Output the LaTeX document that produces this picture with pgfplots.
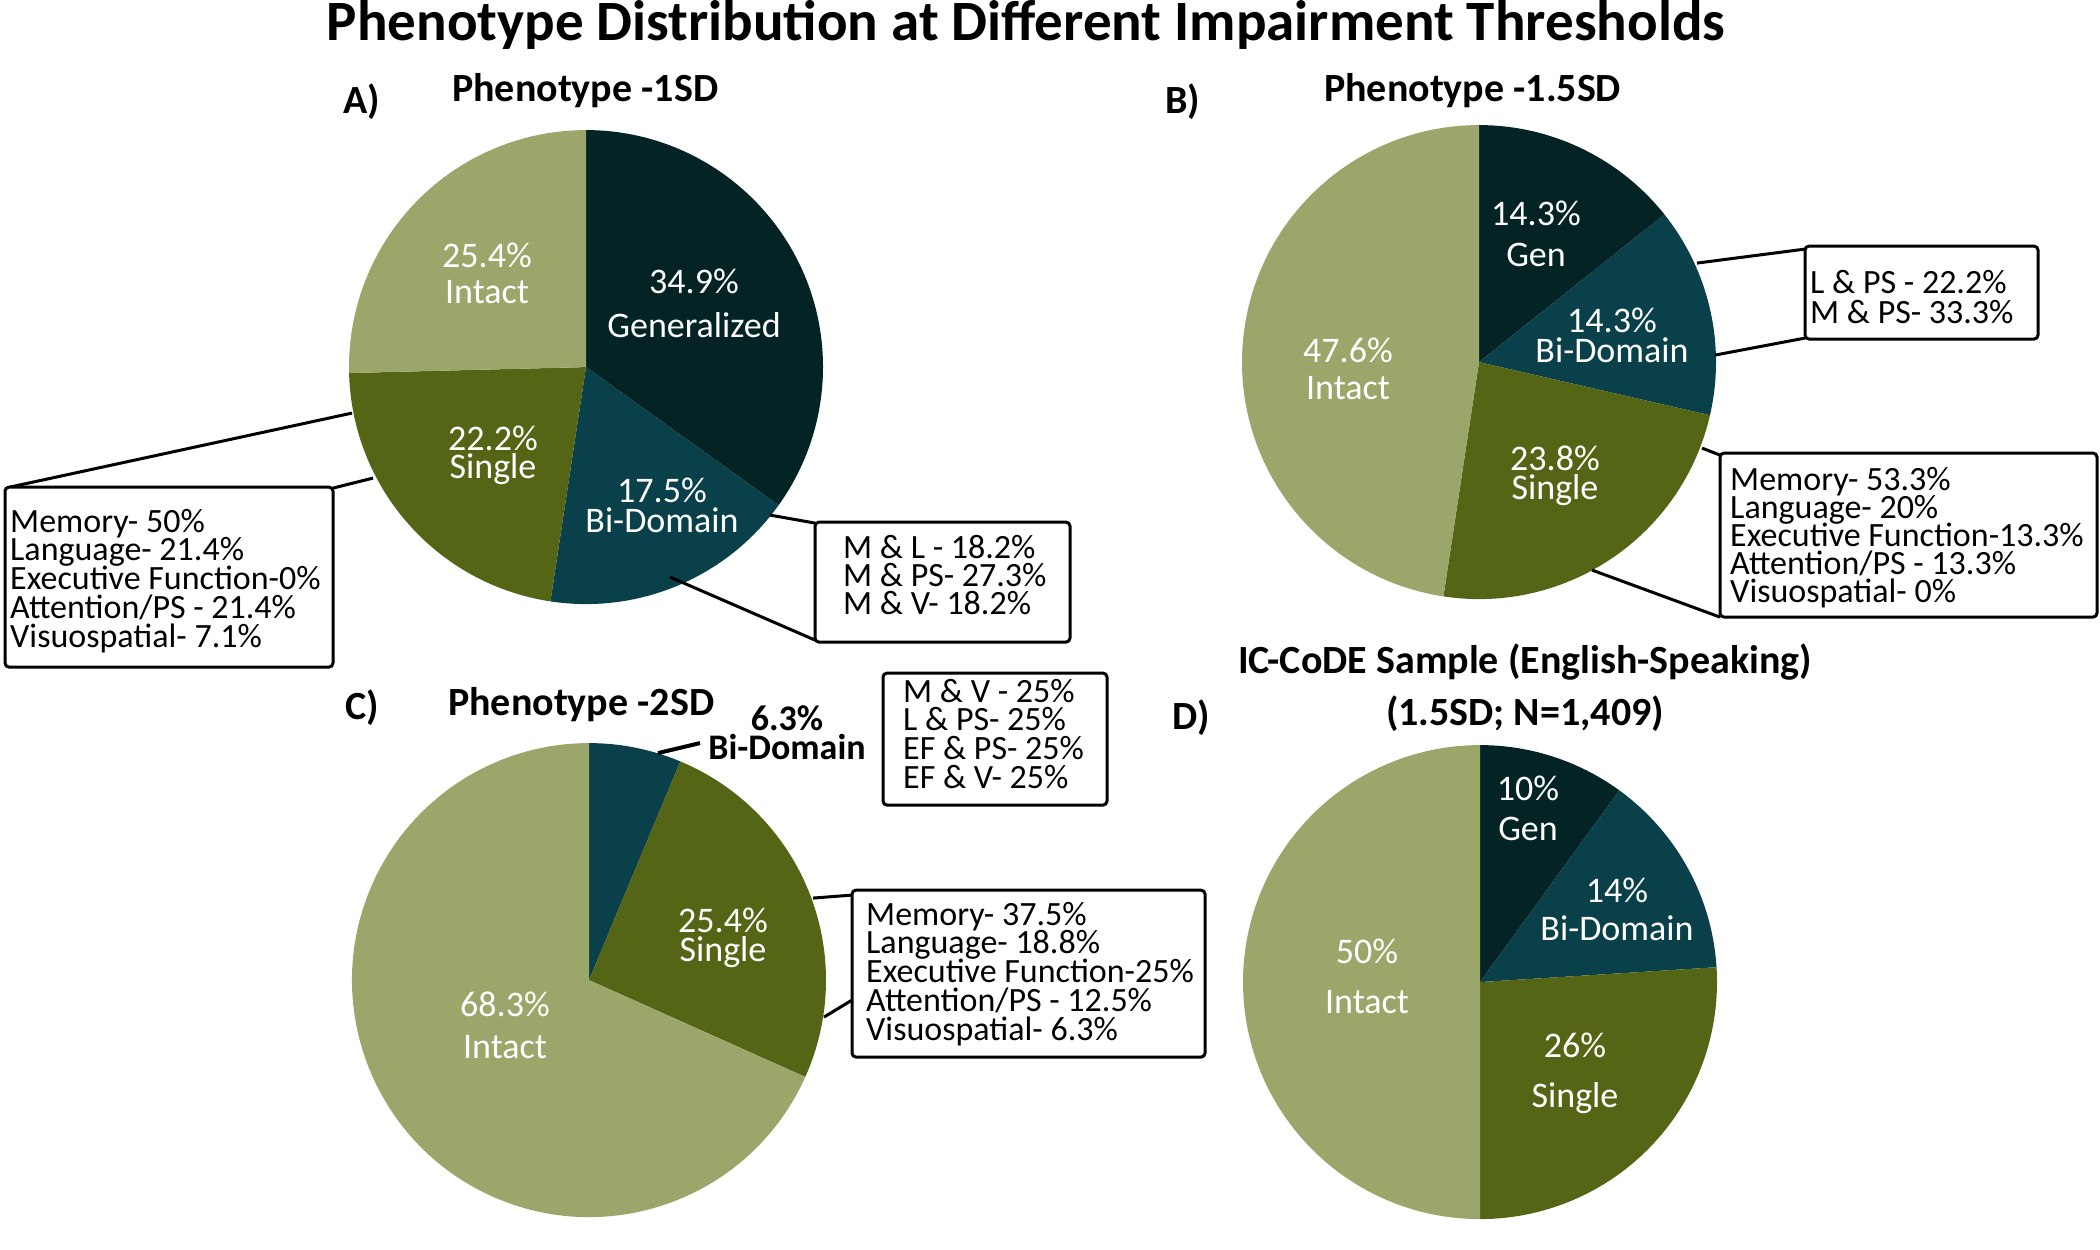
\documentclass[border=0pt]{standalone}
\usepackage{fontspec}
\setmainfont{Carlito}
\usepackage{pgfplots}
\pgfplotsset{compat=1.18}
\definecolor{cgen}{RGB}{3,35,36}
\definecolor{cbi}{RGB}{9,64,73}
\definecolor{csing}{RGB}{84,102,21}
\definecolor{cint}{RGB}{155,166,106}
% pie: centre x, centre y, radius, list of value/colour (clockwise from top)
\newcommand\pie[4]{%
  \gdef\pieacc{90}%
  \foreach \v/\c in {#4}{%
    \pgfmathsetmacro\aend{\pieacc-3.6*\v}%
    \edef\tmp{\noexpand\fill[\c] (axis cs:#1,#2) -- ++(\pieacc:#3pt) arc[start angle=\pieacc, end angle=\aend, radius=#3pt] -- cycle;}%
    \tmp
    \global\let\pieacc\aend
  }%
}
% multi-line stacks with fixed baseline distance; baseline = first line
\newcommand\stackL[2]{\vtop{\baselineskip=#1\lineskiplimit=-\maxdimen\lineskip=0pt\halign{##\hfil\cr #2\crcr}}}
\newcommand\stackC[2]{\vtop{\baselineskip=#1\lineskiplimit=-\maxdimen\lineskip=0pt\halign{\hfil##\hfil\cr #2\crcr}}}
\tikzset{
  ttl/.style={inner sep=0pt,font=\fontsize{57}{60}\selectfont\bfseries},
  ptl/.style={inner sep=0pt,anchor=base west,font=\fontsize{40}{44}\selectfont\bfseries},
  plab/.style={inner sep=0pt,anchor=base,text=white,font=\fontsize{36}{40}\selectfont},
  blab/.style={inner sep=0pt,anchor=base west,font=\fontsize{34}{36}\selectfont},
  box/.style={draw=black,fill=white,line width=3pt,rounded corners=4pt},
  conn/.style={draw=black,line width=3pt},
}
\begin{document}
\begin{tikzpicture}
\begin{axis}[x=1pt,y=1pt,xmin=0,xmax=2100,ymin=0,ymax=1247,y dir=reverse,
  hide axis,clip=false]
\path (axis cs:0,0) rectangle (axis cs:2100,1247);
% ---------- pies ----------
\pie{586}{367}{237}{34.9/cgen,17.5/cbi,22.2/csing,25.4/cint}
\pie{1479}{362}{237}{14.3/cgen,14.3/cbi,23.8/csing,47.6/cint}
\pie{589}{980}{237}{6.3/cbi,25.4/csing,68.3/cint}
\pie{1480}{982}{237}{10/cgen,14/cbi,26/csing,50/cint}
% ---------- titles ----------
\node[ttl,anchor=base] at (axis cs:1026,40) {Phenotype Distribution at Different Impairment Thresholds};
\node[ptl] at (axis cs:343,113) {A)};
\node[ptl] at (axis cs:452,101) {Phenotype -1SD};
\node[ptl] at (axis cs:1165,113) {B)};
\node[ptl] at (axis cs:1324,101) {Phenotype -1.5SD};
\node[ptl] at (axis cs:345,719) {C)};
\node[ptl] at (axis cs:448,715) {Phenotype -2SD};
\node[ptl] at (axis cs:1172,729) {D)};
\node[ptl,anchor=base] at (axis cs:1525,673) {\stackC{52pt}{IC-CoDE Sample (English-Speaking)\cr(1.5SD; N=1,409)}};
% ---------- pie labels A ----------
\node[plab] at (axis cs:694,293) {\stackC{44pt}{34.9\%\cr Generalized}};
\node[plab] at (axis cs:487,267) {\stackC{36pt}{25.4\%\cr Intact}};
\node[plab] at (axis cs:493,450) {\stackC{28pt}{22.2\%\cr Single}};
\node[plab] at (axis cs:662,502) {\stackC{30pt}{17.5\%\cr Bi-Domain}};
% ---------- pie labels B ----------
\node[plab] at (axis cs:1536,225) {\stackC{41pt}{14.3\%\cr Gen}};
\node[plab] at (axis cs:1612,332) {\stackC{30pt}{14.3\%\cr Bi-Domain}};
\node[plab] at (axis cs:1348,362) {\stackC{37pt}{47.6\%\cr Intact}};
\node[plab] at (axis cs:1555,470) {\stackC{29pt}{23.8\%\cr Single}};
% ---------- pie labels C ----------
\node[plab] at (axis cs:723,932) {\stackC{29pt}{25.4\%\cr Single}};
\node[plab] at (axis cs:505,1016) {\stackC{42pt}{68.3\%\cr Intact}};
\node[plab,text=black,font=\fontsize{36}{40}\selectfont\bfseries] at (axis cs:787,730) {\stackC{29pt}{6.3\%\cr Bi-Domain}};
% ---------- pie labels D ----------
\node[plab] at (axis cs:1528,800) {\stackC{40pt}{10\%\cr Gen}};
\node[plab] at (axis cs:1617,902) {\stackC{38pt}{14\%\cr Bi-Domain}};
\node[plab] at (axis cs:1367,963) {\stackC{50pt}{50\%\cr Intact}};
\node[plab] at (axis cs:1575,1057) {\stackC{50pt}{26\%\cr Single}};
% ---------- connectors ----------
\draw[conn] (axis cs:352,413) -- (axis cs:10,487);
\draw[conn] (axis cs:373,478) -- (axis cs:333,488);
\draw[conn] (axis cs:770,515) -- (axis cs:815,523);
\draw[conn] (axis cs:670,577) -- (axis cs:815,640);
\draw[conn] (axis cs:1697,263) -- (axis cs:1805,249);
\draw[conn] (axis cs:1715,355) -- (axis cs:1805,338);
\draw[conn] (axis cs:1702,448) -- (axis cs:1720,455);
\draw[conn] (axis cs:1592,570) -- (axis cs:1720,617);
\draw[conn,line width=4pt] (axis cs:658,753) -- (axis cs:700,743);
\draw[conn] (axis cs:813,898) -- (axis cs:852,895);
\draw[conn] (axis cs:824,1017) -- (axis cs:852,1000);
% ---------- boxes ----------
\draw[box] (axis cs:5,487) rectangle (axis cs:333,667);
\node[blab] at (axis cs:10,532) {\stackL{28.75pt}{Memory- 50\%\cr Language- 21.4\%\cr Executive Function-0\%\cr Attention/PS - 21.4\%\cr Visuospatial- 7.1\%}};
\draw[box] (axis cs:815,522) rectangle (axis cs:1070,642);
\node[blab] at (axis cs:843,558) {\stackL{28pt}{M \& L - 18.2\%\cr M \& PS- 27.3\%\cr M \& V- 18.2\%}};
\draw[box] (axis cs:1805,246) rectangle (axis cs:2038,339);
\node[blab] at (axis cs:1810,293) {\stackL{30pt}{L \& PS - 22.2\%\cr M \& PS- 33.3\%}};
\draw[box] (axis cs:1720,453) rectangle (axis cs:2097,617);
\node[blab] at (axis cs:1730,490) {\stackL{28pt}{Memory- 53.3\%\cr Language- 20\%\cr Executive Function-13.3\%\cr Attention/PS - 13.3\%\cr Visuospatial- 0\%}};
\draw[box] (axis cs:883,673) rectangle (axis cs:1107,805);
\node[blab] at (axis cs:903,702) {\stackL{28.7pt}{M \& V - 25\%\cr L \& PS- 25\%\cr EF \& PS- 25\%\cr EF \& V- 25\%}};
\draw[box] (axis cs:852,890) rectangle (axis cs:1205,1057);
\node[blab] at (axis cs:866,925) {\stackL{28.75pt}{Memory- 37.5\%\cr Language- 18.8\%\cr Executive Function-25\%\cr Attention/PS - 12.5\%\cr Visuospatial- 6.3\%}};
\end{axis}
\end{tikzpicture}
\end{document}
